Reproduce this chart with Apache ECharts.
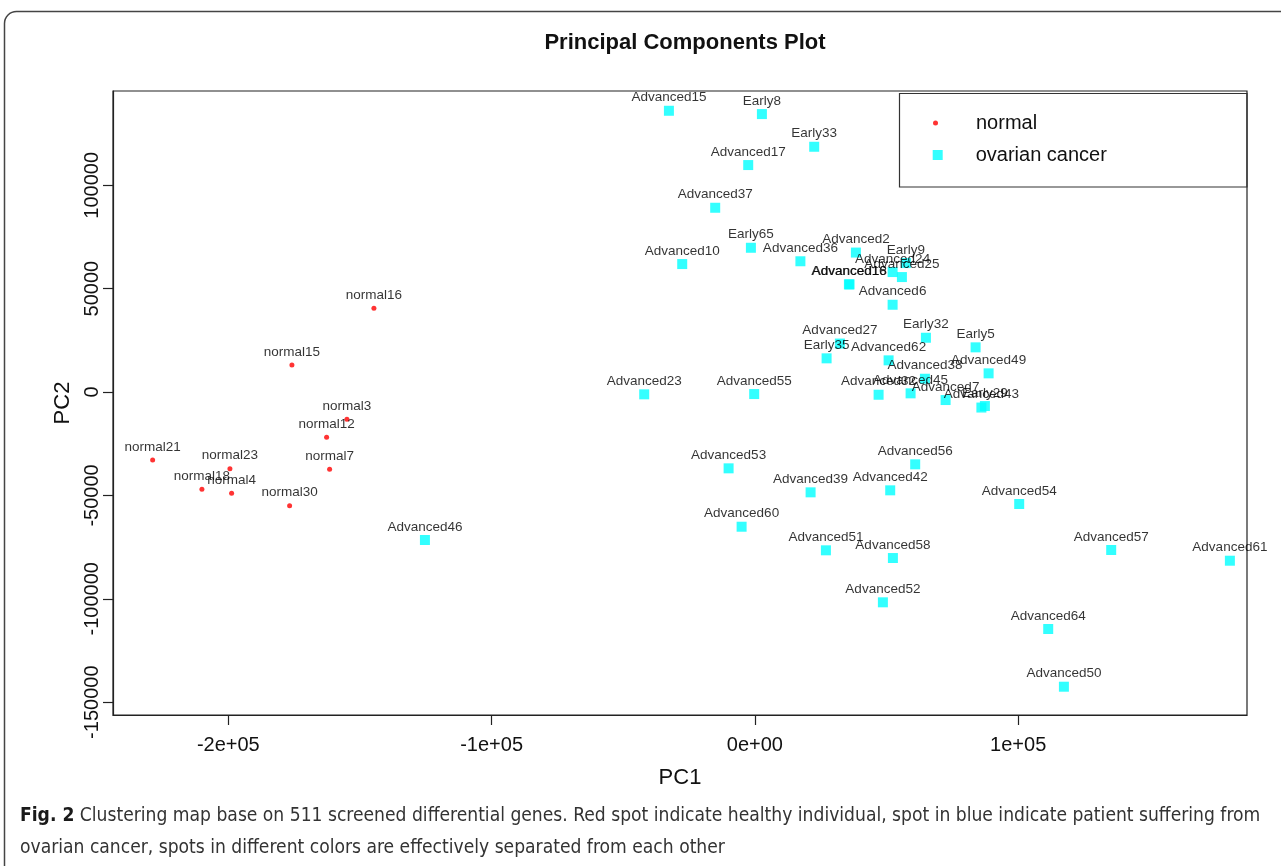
<!DOCTYPE html>
<html><head><meta charset="utf-8">
<script src="https://cdn.jsdelivr.net/npm/echarts@6/dist/echarts.min.js"></script>
<style>html,body{margin:0;padding:0;background:#fff;overflow:hidden}#main{width:1281px;height:866px;}</style>
</head><body><div id="main"></div>
<script>
// ---- data (PC1, PC2) ----
const normalNames = ['normal16','normal15','normal3','normal12','normal21','normal23','normal7','normal18','normal4','normal30'];
const normalPC1 = [-144700,-175850,-154960,-162670,-228750,-199390,-161530,-210030,-198750,-176720];
const normalPC2 = [40470,13060,-13200,-21910,-32880,-37090,-37380,-47050,-48990,-54990];

const cancerNames = ['Advanced15','Early8','Early33','Advanced17','Advanced37','Early65','Advanced10','Advanced36','Advanced2','Early9',
  'Advanced24','Advanced25','Advanced16','Advanced18','Advanced6','Early32','Early5','Advanced27','Early35','Advanced62',
  'Advanced38','Advanced49','Advanced45','Advanced32','Advanced7','Advanced43','Early29','Advanced23','Advanced55','Advanced53',
  'Advanced56','Advanced39','Advanced42','Advanced60','Advanced51','Advanced58','Advanced52','Advanced54','Advanced57','Advanced61',
  'Advanced64','Advanced50','Advanced46'];
const cancerPC1 = [-32660,2660,22520,-2540,-15080,-1520,-27610,17280,38360,57350,
  52300,55830,35700,35950,52300,64950,83820,32280,27230,50780,
  64570,88760,59130,46980,72430,86020,87350,-42040,-270,-9990,
  60880,21150,51390,-5050,26970,52410,48610,100380,135320,180400,
  111400,117360,-125330];
const cancerPC2 = [136040,134440,118630,109780,89130,69780,61900,63250,67460,62380,
  58030,55610,52080,52080,42220,26260,21620,23450,16300,15330,
  6430,9040,-630,-1310,-3870,-7500,-6770,-1110,-970,-36900,
  -34960,-48510,-47540,-65140,-76550,-80280,-101700,-54160,-76410,-81580,
  -114610,-142520,-71570];

const xTicks = [-200000,-100000,0,100000];
const xTickLabels = ['-2e+05','-1e+05','0e+00','1e+05'];
const yTicks = [-150000,-100000,-50000,0,50000,100000];
const yTickLabels = ['-150000','-100000','-50000','0','50000','100000'];
const xRange = [-243800, 186900];
const yRange = [-156200, 145600];

// ---- build ----
const FONT = '"Liberation Sans", Arial, Helvetica, sans-serif';
const CAPFONT = '"Liberation Sans Narrow", "DejaVu Sans Condensed", sans-serif';
const normalData = normalNames.map((n,i)=>({name:n, value:[normalPC1[i], normalPC2[i]]}));
const cancerData = cancerNames.map((n,i)=>({name:n, value:[cancerPC1[i], cancerPC2[i]]}));
const pointLabel = {show:true, position:'inside', offset:[0,-13], formatter:'{b}', color:'#000',
  textBorderWidth:0, textShadowBlur:0, fontSize:13.5, fontFamily:FONT};

const chart = echarts.init(document.getElementById('main'), null, {renderer:'canvas'});
chart.setOption({
  backgroundColor:'#fff',
  animation:false,
  title:{text:'Principal Components Plot', left:680, top:27, textAlign:'center',
    textStyle:{fontSize:22, fontWeight:'bold', color:'#111', fontFamily:FONT}},
  grid:{left:113, right:34, top:91, bottom:151, show:true, borderColor:'#222', borderWidth:1.2, backgroundColor:'transparent'},
  xAxis:{type:'value', min:xRange[0], max:xRange[1], name:'PC1', nameLocation:'middle', nameGap:52,
    nameTextStyle:{fontSize:22, color:'#111', fontFamily:FONT},
    axisLine:{show:true, onZero:false, lineStyle:{color:'#222', width:1.2}},
    axisTick:{show:true, customValues:xTicks, length:10, lineStyle:{color:'#222', width:1.2}},
    axisLabel:{customValues:xTicks, margin:20, fontSize:20, color:'#111', fontFamily:FONT,
      formatter:v=>{const i=xTicks.indexOf(v); return i>=0?xTickLabels[i]:'';}},
    splitLine:{show:false}},
  yAxis:{type:'value', min:yRange[0], max:yRange[1], name:'PC2', nameLocation:'middle', nameGap:31,
    nameTextStyle:{fontSize:22, color:'#111', fontFamily:FONT},
    axisLine:{show:true, onZero:false, lineStyle:{color:'#222', width:1.2}},
    axisTick:{show:true, customValues:yTicks, length:10, lineStyle:{color:'#222', width:1.2}},
    axisLabel:{customValues:yTicks, rotate:90, margin:11, fontSize:20, color:'#111', fontFamily:FONT,
      formatter:v=>{const i=yTicks.indexOf(v); return i>=0?yTickLabels[i]:'';}},
    splitLine:{show:false}},
  legend:[
    {data:['normal'], orient:'vertical', left:933, top:113, padding:0, icon:'circle', itemWidth:5, itemHeight:5,
      formatter:n=>'{s| }'+n,
      textStyle:{fontSize:20, color:'#111', fontFamily:FONT, rich:{s:{width:33}}}},
    {data:['ovarian cancer'], orient:'vertical', left:932.7, top:145, padding:0, icon:'rect', itemWidth:10, itemHeight:10,
      formatter:n=>'{s| }'+n,
      textStyle:{fontSize:20, color:'#111', fontFamily:FONT, rich:{s:{width:28}}}}
  ],
  graphic:[
    {type:'rect', silent:true, shape:{x:4.5, y:11.5, width:1320, height:900, r:12},
      style:{fill:'none', stroke:'#444', lineWidth:1.5}},
    {type:'rect', silent:true, shape:{x:899.5, y:93.5, width:347.5, height:93.5},
      style:{fill:'none', stroke:'#333', lineWidth:1.2}},
    {type:'text', silent:true, left:20, top:800,
      style:{text:'{b|Fig. 2} Clustering map base on 511 screened differential genes. Red spot indicate healthy individual, spot in blue indicate patient suffering from\novarian cancer, spots in different colors are effectively separated from each other',
        fontSize:19.1, lineHeight:32, fill:'#333', fontFamily:CAPFONT,
        rich:{b:{fontWeight:'bold', fill:'#1a1a1a', fontSize:19.1, fontFamily:CAPFONT}}}}
  ],
  series:[
    {name:'normal', type:'scatter', symbol:'circle', symbolSize:5, itemStyle:{color:'#ff0000'},
      data:normalData, label:pointLabel, z:2},
    {name:'ovarian cancer', type:'scatter', symbol:'rect', symbolSize:10, itemStyle:{color:'#00ffff'},
      data:cancerData, label:pointLabel, z:2}
  ]
});
</script></body></html>
